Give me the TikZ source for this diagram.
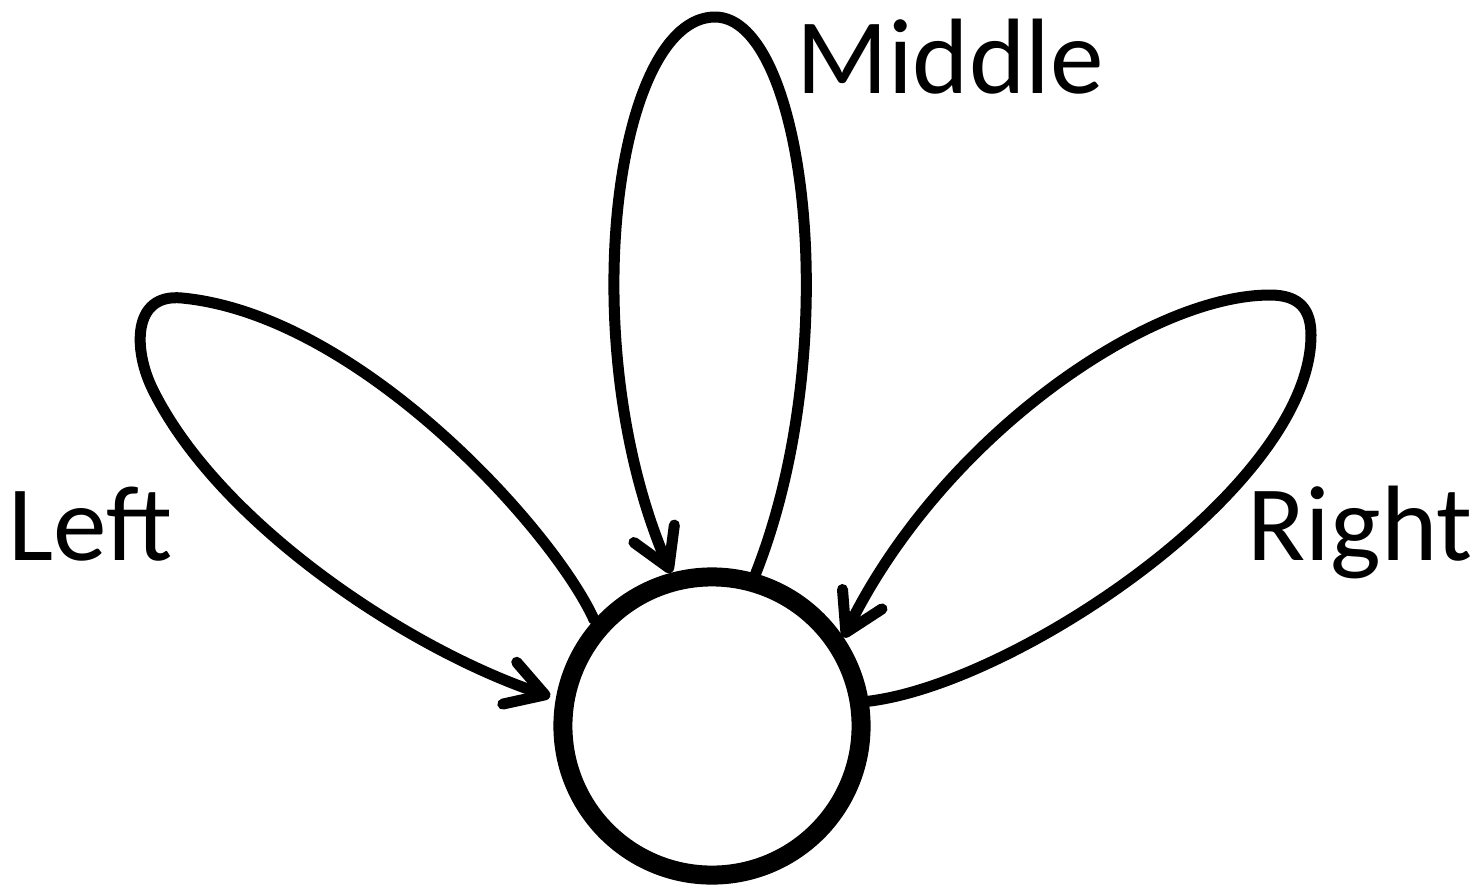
\documentclass[tikz,border=0pt]{standalone}
\usepackage{fontspec}
\setmainfont{Carlito}
\usetikzlibrary{arrows.meta}
\begin{document}
\begin{tikzpicture}[x=0.01cm,y=-0.01cm,
  hub/.style={circle,draw,line width=0.19cm,minimum size=2.98cm,inner sep=0pt},
  loopline/.style={line width=0.11cm,line cap=round,line join=round},
  looparrow/.style={-{Straight Barb[length=0.37cm,width=0.44cm,round]}},
  lbl/.style={font=\fontsize{30.5}{36}\selectfont,inner sep=0pt,anchor=base west}]
\useasboundingbox (0,0) rectangle (1484,890);
\node[hub] (c) at (712,726) {};
% left loop
\draw[loopline,looparrow,shorten >=0.06cm] (c.138) .. controls (554,531) and (360,315) .. (182,298)
  .. controls (132,293) and (133,350) .. (153,390)
  .. controls (220,525) and (410,650) .. (c.170);
% middle loop
\draw[loopline,looparrow] (c.74) .. controls (846,345) and (805,17) .. (715,17)
  .. controls (615,17) and (572,343) .. (c.105);
% right loop
\draw[loopline,looparrow] (c.9) .. controls (1018,683) and (1311,485) .. (1311,335)
  .. controls (1311,310) and (1300,295) .. (1270,295)
  .. controls (1150,295) and (943,435) .. (c.34);
\node[lbl] (m) at (796,93) {Middle};
\node[lbl] (l) at (8,560) {Left};
\node[lbl] (r) at (1247,560) {Right};
\end{tikzpicture}
\end{document}
